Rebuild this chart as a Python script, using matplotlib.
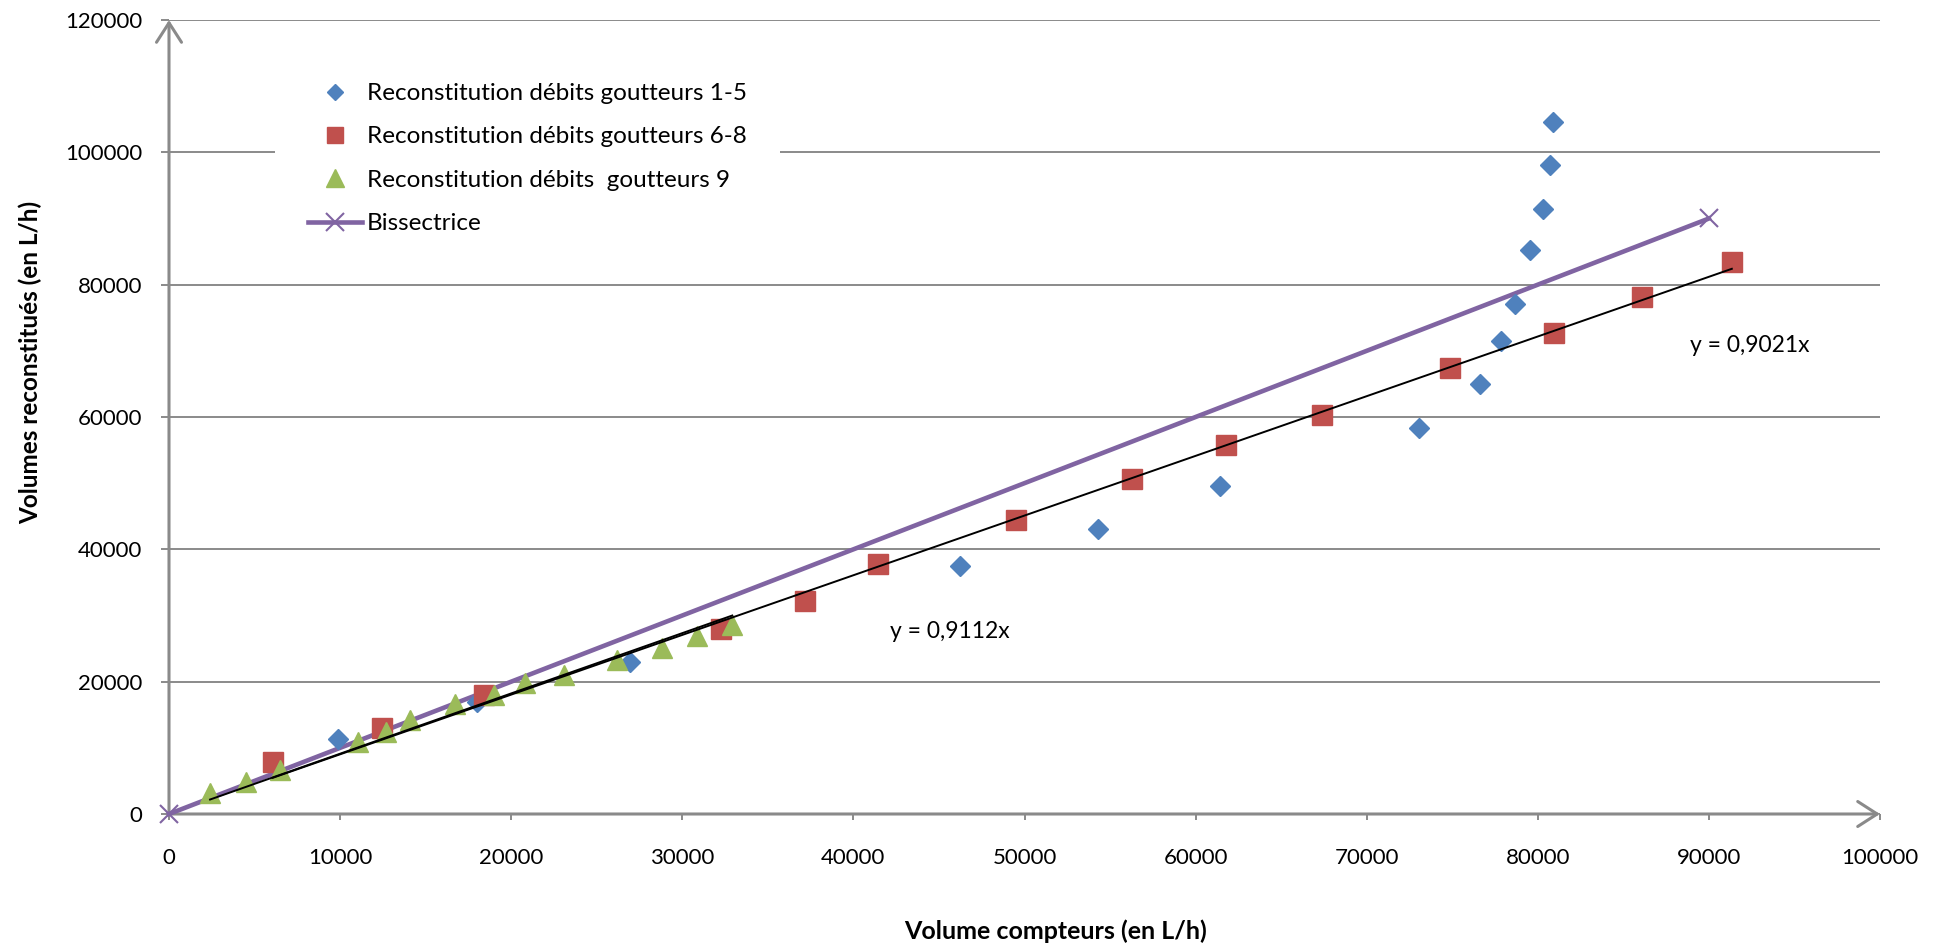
import matplotlib
matplotlib.use('Agg')
import matplotlib.pyplot as plt
from matplotlib.lines import Line2D

# ---------------- data ----------------
blue_x = [9870, 18000, 26930, 46230, 54290, 61450, 73040, 76630, 77840, 78650, 79520, 80290, 80690, 80900]
blue_y = [11400, 17000, 23030, 37420, 43020, 49590, 58370, 64930, 71500, 77040, 85280, 91470, 98140, 104610]

red_x = [6070, 12440, 18430, 32250, 37200, 41460, 49520, 56310, 61790, 67390, 74880, 80960, 86070, 91340]
red_y = [7820, 12950, 17940, 27990, 32150, 37750, 44470, 50660, 55780, 60240, 67350, 72740, 78070, 83400]

green_x = [2400, 4500, 6500, 11040, 12700, 14060, 16700, 18980, 20830, 23070, 26200, 28830, 30880, 32920]
green_y = [3130, 4890, 6700, 10840, 12350, 14210, 16630, 17990, 19750, 21010, 23280, 25050, 26910, 28490]

bis_x = [0, 90000]
bis_y = [0, 90000]

slope_red = 0.9021
slope_green = 0.9112

x_ticks = [0, 10000, 20000, 30000, 40000, 50000, 60000, 70000, 80000, 90000, 100000]
y_ticks = [0, 20000, 40000, 60000, 80000, 100000, 120000]

labels = ["Reconstitution débits goutteurs 1-5",
          "Reconstitution débits goutteurs 6-8",
          "Reconstitution débits  goutteurs 9",
          "Bissectrice"]
x_title = "Volume compteurs (en L/h)"
y_title = "Volumes reconstitués (en L/h)"
eq_red = "y = 0,9021x"
eq_green = "y = 0,9112x"

# ---------------- style ----------------
plt.rcParams['font.family'] = ['Lato', 'DejaVu Sans']
c_blue = '#4F81BD'
c_red = '#C0504D'
c_green = '#9BBB59'
c_purple = '#8064A2'
c_grid = '#8a8a8a'

W, H = 1939, 950
fig = plt.figure(figsize=(W / 100, H / 100), dpi=100)
ax = fig.add_axes([169 / W, 1 - 814 / H, 1711 / W, 794 / H])
ax.set_xlim(0, 100000)
ax.set_ylim(0, 120000)
for s in ax.spines.values():
    s.set_visible(False)

ax.set_xticks(x_ticks)
ax.set_yticks(y_ticks)
ax.set_xticklabels([str(v) for v in x_ticks])
ax.set_yticklabels([str(v) for v in y_ticks])
ax.yaxis.grid(True, color=c_grid, lw=1.4, zorder=0)
ax.set_axisbelow(True)
ax.tick_params(axis='y', length=6, width=1.4, color=c_grid, pad=13, labelsize=16)
ax.tick_params(axis='x', length=4.5, width=1.4, color=c_grid, pad=20, labelsize=16)

# axis lines with open arrows
arr = dict(arrowstyle='->,head_length=0.7,head_width=0.45', color=c_grid, lw=2.2,
           shrinkA=0, shrinkB=0, mutation_scale=20)
ax.annotate('', xy=(1, 0), xytext=(0, 0), xycoords='axes fraction', arrowprops=arr, zorder=2)
ax.annotate('', xy=(0, 1), xytext=(0, 0), xycoords='axes fraction', arrowprops=arr, zorder=2)

# bissectrice
ax.plot(bis_x, bis_y, color=c_purple, lw=3.3, marker='x', ms=13, mew=1.5,
        zorder=3, clip_on=False)

# scatter series
ax.plot(blue_x, blue_y, ls='none', marker='D', ms=10, color=c_blue, mec=c_blue, zorder=4)
ax.plot(red_x, red_y, ls='none', marker='s', ms=14, color=c_red, mec=c_red, zorder=5)
ax.plot(green_x, green_y, ls='none', marker='^', ms=15, color=c_green, mec=c_green, zorder=6)

# trend lines (through origin)
rx = [min(red_x), max(red_x)]
gx = [min(green_x), max(green_x)]
ax.plot(rx, [slope_red * v for v in rx], color='black', lw=1.4, zorder=7)
ax.plot(gx, [slope_green * v for v in gx], color='black', lw=1.4, zorder=7)

# equations
fig.text(890 / W, 1 - 632 / H, eq_green, fontsize=16.5, ha='left', va='center')
fig.text(1690 / W, 1 - 345 / H, eq_red, fontsize=16.5, ha='left', va='center')

# axis titles
fig.text(1056 / W, 1 - 931 / H, x_title, fontsize=18, fontweight='bold', ha='center', va='center')
fig.text(30 / W, 1 - 362 / H, y_title, fontsize=17.5, fontweight='bold', ha='center', va='center',
         rotation=90)

# legend
handles = [
    Line2D([], [], ls='none', marker='D', ms=8.5, color=c_blue),
    Line2D([], [], ls='none', marker='s', ms=12, color=c_red),
    Line2D([], [], ls='none', marker='^', ms=13, color=c_green),
    Line2D([], [], color=c_purple, lw=3.3, marker='x', ms=13, mew=1.5),
]
leg = ax.legend(handles, labels, loc='upper left', bbox_to_anchor=(275 / W, 1 - 50 / H),
                bbox_transform=fig.transFigure, frameon=True, fancybox=False,
                facecolor='white', edgecolor='none', framealpha=1, fontsize=17.5,
                handlelength=2.22, handletextpad=0.2, borderpad=1.36, labelspacing=0.92,
                borderaxespad=0)
leg.set_zorder(10)

fig.savefig('out.png', dpi=100)
